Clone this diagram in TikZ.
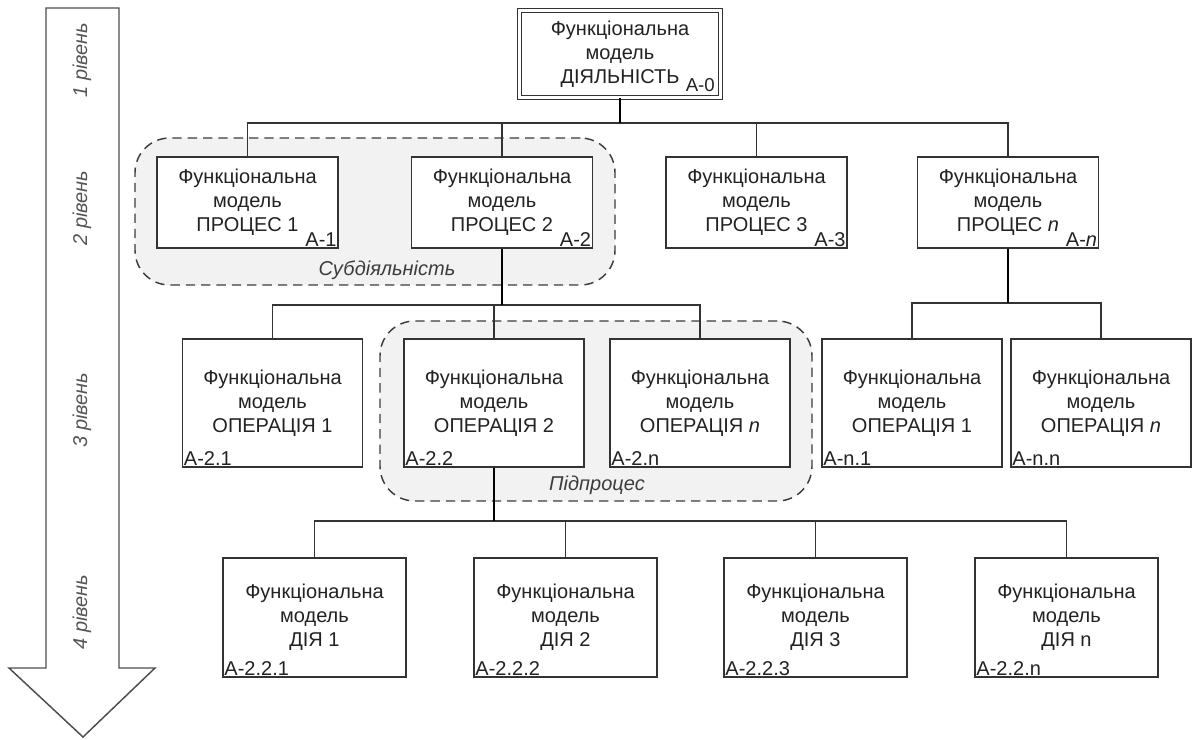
\documentclass[tikz,border=0pt]{standalone}
\usepackage{fontspec}
\setmainfont{Liberation Sans}
\usetikzlibrary{calc}
\definecolor{linec}{HTML}{333333}
\definecolor{grpfill}{HTML}{F2F2F2}
\definecolor{grpline}{HTML}{3C3C3C}
\definecolor{txtc}{HTML}{222222}
\definecolor{lvlc}{HTML}{555555}
\definecolor{arrowc}{HTML}{4D4D4D}
\begin{document}
\begin{tikzpicture}[x=0.75pt,y=-0.75pt,
  fnode/.style={draw=linec, fill=white, line width=1.2pt, align=center, inner sep=0pt, text=txtc, font=\fontsize{15}{18}\selectfont},
  lvtwo/.style={fnode, minimum width=181*0.75pt, minimum height=91*0.75pt},
  lvthree/.style={fnode, minimum width=180*0.75pt, minimum height=128*0.75pt},
  lvfour/.style={fnode, minimum width=183*0.75pt, minimum height=119*0.75pt},
  code/.style={inner sep=1.5pt, text=txtc, font=\fontsize{15}{18}\selectfont},
  group/.style={draw=grpline, fill=grpfill, dash pattern=on 7pt off 4.5pt, line width=1.1pt, rounded corners=26pt, inner sep=0pt},
  grplabel/.style={text=grpline, font=\fontsize{15}{18}\selectfont\itshape},
  lvl/.style={rotate=90, text=lvlc, font=\fontsize{15}{18}\selectfont\itshape},
  branch/.style={draw=linec, line width=1.1pt},
  spine/.style={draw=black, line width=1.6pt},
]
\useasboundingbox (0,0) rectangle (1192,739);

% level arrow
\draw[draw=arrowc, line width=1.1pt, fill=white, line join=miter]
  (46,8) -- (119,8) -- (119,668) -- (155,668) -- (83,737) -- (9,668) -- (46,668) -- cycle;
\node[lvl] (lv1) at (82,60) {1 рівень};
\node[lvl] (lv2) at (82,208) {2 рівень};
\node[lvl] (lv3) at (82,410) {3 рівень};
\node[lvl] (lv4) at (82,612) {4 рівень};

% groups
\node[group, minimum width=480*0.75pt, minimum height=147*0.75pt] (g1) at (375,211.5) {};
\node[grplabel] (g1l) at (387,270) {Субдіяльність};
\node[group, minimum width=432*0.75pt, minimum height=180*0.75pt] (g2) at (596,411) {};
\node[grplabel] (g2l) at (597,485) {Підпроцес};

% top node
\node[fnode, double=white, double distance=2pt, line width=0.9pt,
      minimum width=201*0.75pt, minimum height=87*0.75pt] (top) at (620,54)
      {Функціональна\\модель\\ДІЯЛЬНІСТЬ};
\node[code, anchor=south east, font=\fontsize{14}{16}\selectfont] (top-c) at ($(top.south east)+(-4,-4)$) {А-0};

% level 2
\node[lvtwo] (b21) at (247.5,202.5) {Функціональна\\модель\\ПРОЦЕС 1};
\node[lvtwo] (b22) at (502,202.5) {Функціональна\\модель\\ПРОЦЕС 2};
\node[lvtwo] (b23) at (756.5,202.5) {Функціональна\\модель\\ПРОЦЕС 3};
\node[lvtwo] (b2n) at (1008,202.5) {Функціональна\\модель\\ПРОЦЕС \textit{n}};
\node[code, anchor=south east] (b21-c) at (b21.south east) {А-1};
\node[code, anchor=south east] (b22-c) at (b22.south east) {А-2};
\node[code, anchor=south east] (b23-c) at (b23.south east) {А-3};
\node[code, anchor=south east] (b2n-c) at (b2n.south east) {А-\textit{n}};

% level 3
\node[lvthree] (c21) at (272.5,403) {Функціональна\\модель\\ОПЕРАЦІЯ 1};
\node[lvthree] (c22) at (494,403) {Функціональна\\модель\\ОПЕРАЦІЯ 2};
\node[lvthree] (c2n) at (700,403) {Функціональна\\модель\\ОПЕРАЦІЯ \textit{n}};
\node[lvthree] (cn1) at (912,403) {Функціональна\\модель\\ОПЕРАЦІЯ 1};
\node[lvthree] (cnn) at (1101,403) {Функціональна\\модель\\ОПЕРАЦІЯ \textit{n}};
\node[code, anchor=south west] (c21-c) at (c21.south west) {А-2.1};
\node[code, anchor=south west] (c22-c) at (c22.south west) {А-2.2};
\node[code, anchor=south west] (c2n-c) at (c2n.south west) {А-2.n};
\node[code, anchor=south west] (cn1-c) at (cn1.south west) {А-n.1};
\node[code, anchor=south west] (cnn-c) at (cnn.south west) {А-n.n};

% level 4
\node[lvfour] (d1) at (314.5,617.5) {Функціональна\\модель\\ДІЯ 1};
\node[lvfour] (d2) at (565.5,617.5) {Функціональна\\модель\\ДІЯ 2};
\node[lvfour] (d3) at (815.5,617.5) {Функціональна\\модель\\ДІЯ 3};
\node[lvfour] (d4) at (1066.5,617.5) {Функціональна\\модель\\ДІЯ n};
\node[code, anchor=south west] (d1-c) at (d1.south west) {А-2.2.1};
\node[code, anchor=south west] (d2-c) at (d2.south west) {А-2.2.2};
\node[code, anchor=south west] (d3-c) at (d3.south west) {А-2.2.3};
\node[code, anchor=south west] (d4-c) at (d4.south west) {А-2.2.n};

% junctions
\coordinate (j1) at (620,123);
\coordinate (j2) at (502,305);
\coordinate (j3) at (1008,303);
\coordinate (j4) at (494,521);

% connectors
\draw[branch] (j1) -| (b21.north);
\draw[branch] (j1) -| (b22.north);
\draw[branch] (j1) -| (b23.north);
\draw[branch] (j1) -| (b2n.north);
\draw[spine] (top.south) -- (j1);

\draw[branch] (j2) -| (c21.north);
\draw[branch] (j2) -| (c22.north);
\draw[branch] (j2) -| (c2n.north);
\draw[spine] (b22.south) -- (j2);

\draw[branch] (j3) -| (cn1.north);
\draw[branch] (j3) -| (cnn.north);
\draw[spine] (b2n.south) -- (j3);

\draw[branch] (j4) -| (d1.north);
\draw[branch] (j4) -| (d2.north);
\draw[branch] (j4) -| (d3.north);
\draw[branch] (j4) -| (d4.north);
\draw[spine] (c22.south) -- (j4);
\end{tikzpicture}
\end{document}
